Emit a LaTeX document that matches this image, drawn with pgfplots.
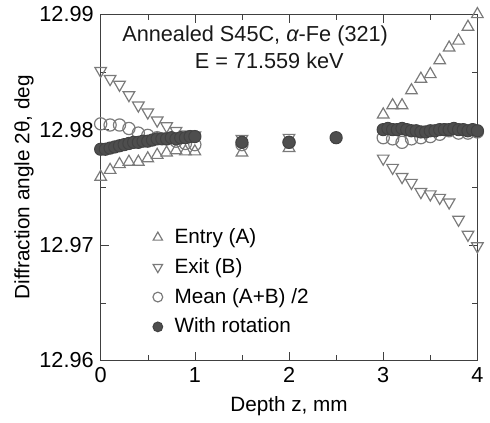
\documentclass[border=0pt]{standalone}
\usepackage{pgfplots}
\pgfplotsset{compat=1.18}
\usepackage{fontspec}
\setmainfont{Liberation Sans}

\definecolor{markgray}{HTML}{7A7A7A}
\definecolor{dotgray}{HTML}{4E4E4E}

% entry (A), exit (B), mean and rotation
\pgfplotstableread{
z     t
0.0   12.9759
0.1   12.9765
0.2   12.9770
0.3   12.9772
0.4   12.9772
0.5   12.9775
0.6   12.9778
0.7   12.9780
0.8   12.9782
0.9   12.9781
1.0   12.9781
1.5   12.9780
2.0   12.9784
3.0   12.9813
3.1   12.9821
3.2   12.9821
3.3   12.9834
3.4   12.9844
3.5   12.9848
3.6   12.9860
3.7   12.9871
3.8   12.9877
3.9   12.9889
4.0   12.9900
}\entry
\pgfplotstableread{
z     t
0.0   12.9851
0.1   12.9844
0.2   12.9839
0.3   12.9830
0.4   12.9821
0.5   12.9815
0.6   12.9808
0.7   12.9803
0.8   12.9799
0.9   12.9796
1.0   12.9795
1.5   12.9792
2.0   12.9793
3.0   12.9775
3.1   12.9767
3.2   12.9759
3.3   12.9754
3.4   12.9746
3.5   12.9744
3.6   12.9741
3.7   12.9737
3.8   12.9722
3.9   12.9709
4.0   12.9699
}\exit
\pgfplotstableread{
z     t
0.0   12.9805
0.1   12.9804
0.2   12.9804
0.3   12.9801
0.4   12.9797
0.5   12.9795
0.6   12.9793
0.7   12.9792
0.8   12.9790
0.9   12.9788
1.0   12.9787
1.5   12.9787
2.0   12.9789
3.0   12.9793
3.1   12.9792
3.2   12.9789
3.3   12.9792
3.4   12.9793
3.5   12.9794
3.6   12.9796
3.7   12.9799
3.8   12.9797
3.9   12.9797
4.0   12.9798
}\mean
\pgfplotstableread{
z     t
0.00  12.9783
0.05  12.9783
0.10  12.9784
0.15  12.9785
0.20  12.9786
0.25  12.9787
0.30  12.9788
0.35  12.9789
0.40  12.9789
0.45  12.9790
0.50  12.9790
0.55  12.9791
0.60  12.9792
0.65  12.9792
0.70  12.9792
0.75  12.9793
0.80  12.9792
0.85  12.9793
0.90  12.9793
0.95  12.9794
1.00  12.9794
1.50  12.9789
2.00  12.9789
2.50  12.9793
3.00  12.9800
3.05  12.9801
3.10  12.9800
3.15  12.9800
3.20  12.9801
3.25  12.9800
3.30  12.9799
3.35  12.9799
3.40  12.9798
3.45  12.9798
3.50  12.9799
3.55  12.9799
3.60  12.9800
3.65  12.9800
3.70  12.9800
3.75  12.9801
3.80  12.9800
3.85  12.9800
3.90  12.9799
3.95  12.9800
4.00  12.9799
}\rot

\begin{document}
\begin{tikzpicture}
\begin{axis}[
  scale only axis,
  width=191pt, height=175.5pt,
  xmin=0, xmax=4, ymin=12.96, ymax=12.99,
  xtick={0,1,2,3,4},
  ytick={12.96,12.97,12.98,12.99},
  yticklabels={12.96,12.97,12.98,12.99},
  minor x tick num=1, minor y tick num=1,
  tick align=inside,
  axis line style={black!75},
  tick style={black!75},
  /pgf/number format/assume math mode=true,
  tick label style={font=\fontsize{11}{13}\selectfont},
  label style={font=\fontsize{10.5}{12}\selectfont},
  xlabel={Depth z, mm},
  ylabel={Diffraction angle 2θ, deg},
  xlabel style={yshift=0pt},
  ylabel style={yshift=-4pt},
  legend style={draw=none, fill=none, at={(0.122,0.405)}, anchor=north west,
    font=\fontsize{10.5}{12}\selectfont, row sep=2pt},
  legend image post style={scale=0.8},
  legend cell align=left,
  clip=false,
]
\addplot[only marks, mark=triangle, mark size=3.4pt, mark options={draw=markgray, fill=white, line width=0.6pt}] table {\entry};
\addlegendentry{\hspace{4pt}Entry (A)}
\addplot[only marks, mark=triangle, mark size=3.4pt, mark options={rotate=180, draw=markgray, fill=white, line width=0.6pt}] table {\exit};
\addlegendentry{\hspace{4pt}Exit (B)}
\addplot[only marks, mark=o, mark size=3.1pt, mark options={draw=markgray, fill=white, line width=0.6pt}] table {\mean};
\addlegendentry{\hspace{4pt}Mean (A+B) /2}
\addplot[only marks, mark=*, mark size=3.1pt, mark options={draw=dotgray!85!black, fill=dotgray, line width=0.5pt}] table {\rot};
\addlegendentry{\hspace{4pt}With rotation}
\node[font=\fontsize{11}{12.5}\selectfont, text=black!90] at (axis cs:1.64,12.9881)
  {Annealed S45C, {\itshape α}-Fe (321)};
\node[font=\fontsize{11}{12.5}\selectfont, text=black!90] at (axis cs:1.79,12.9860)
  {E = 71.559 keV};
\end{axis}
\path ([xshift=-4pt]current bounding box.west) circle (0pt);
\end{tikzpicture}
\end{document}
